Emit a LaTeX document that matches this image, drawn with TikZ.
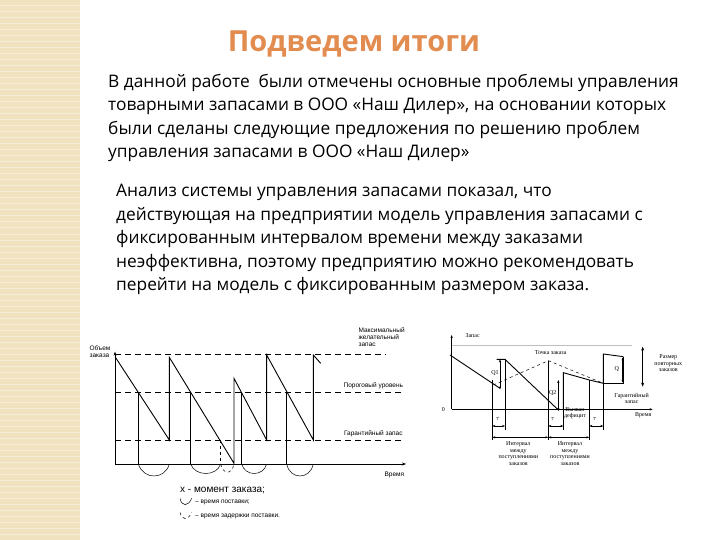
\documentclass[tikz,border=0pt]{standalone}
\usepackage{fontspec}
\setmainfont{Open Sans}
\newfontfamily\arialf{Liberation Sans}
\newfontfamily\timesf{Liberation Serif}
\usetikzlibrary{arrows.meta}
\definecolor{beige}{RGB}{240,226,190}
\definecolor{ttl}{RGB}{226,140,80}
\tikzset{
 body/.style={anchor=north west,align=left,font=\fontsize{17.3}{23.5}\selectfont,inner sep=0},
 thin/.style={line width=0.5pt},
 bold/.style={line width=0.9pt},
 dsh/.style={line width=0.6pt,dash pattern=on 6pt off 4pt},
 lab/.style={font=\arialf\fontsize{6.5}{7}\selectfont,align=left,inner sep=0},
 rl/.style={font=\timesf\fontsize{6}{6.5}\selectfont,align=center,inner sep=0},
 da/.style={thin,{Stealth[length=3pt]}-{Stealth[length=3pt]}}
}
\begin{document}
\begin{tikzpicture}[x=1pt,y=-1pt]
\useasboundingbox (0,0) rectangle (720,540);
\fill[white] (0,0) rectangle (720,540);
\fill[beige] (0,0) rectangle (80,540);
\foreach \i in {0,6,...,540}{\draw[white!40!beige,line width=1pt] (0,\i) -- (80,\i);}
\node[font=\bfseries\fontsize{29}{32}\selectfont,text=ttl] (title) at (354,44) {Подведем итоги};
\node[body] (p1) at (108,74) {В данной работе \ были отмечены основные проблемы управления\\товарными запасами в ООО «Наш Дилер», на основании которых\\были сделаны следующие предложения по решению проблем\\управления запасами в ООО «Наш Дилер»};
\node[body] (p2) at (116,184) {Анализ системы управления запасами показал, что\\действующая на предприятии модель управления запасами с\\фиксированным интервалом времени между заказами\\неэффективна, поэтому предприятию можно рекомендовать\\перейти на модель с фиксированным размером заказа.};
% left chart
\begin{scope}[shift={(80,320)},x=1pt/3,y=-1pt/3]
\draw[thin,-{Stealth[length=4pt]}] (105,432) -- (105,95);
\draw[thin,-{Stealth[length=4pt]}] (105,432) -- (978,432);
\draw[dsh] (105,103) -- (918,103);
\draw[dsh] (105,217) -- (975,217);
\draw[dsh] (105,360) -- (975,360);
\draw[bold] (105,110) -- (268,360) -- (268,112) -- (462,430) -- (462,175) -- (560,360) -- (560,105) -- (700,360) -- (700,105) -- (722,130);
\foreach \x/\t in {175/217,332/217,485/217,620/217}{\draw[thin] (\x,\t) -- (\x,432);}
\draw[thin,dashed] (422,360) -- (422,432);
\draw[thin] (175,432) .. controls (190,480) and (255,480) .. (268,432);
\draw[thin] (332,432) .. controls (345,470) and (410,470) .. (422,432);
\draw[thin,dashed] (422,432) .. controls (430,465) and (455,465) .. (462,432);
\draw[thin] (485,432) .. controls (495,470) and (550,470) .. (560,432);
\draw[thin] (620,432) .. controls (630,480) and (690,480) .. (700,432);
\node[lab] (ly) at (60,95) {Объем\\заказа};
\node[lab] (lmax) at (905,50) {Максимальный\\желательный\\запас};
\node[lab] (lthr) at (880,197) {Пороговый уровень};
\node[lab] (lgar) at (880,340) {Гарантийный запас};
\node[lab] (lt) at (943,465) {Время};
\node[font=\arialf\fontsize{10}{11}\selectfont,anchor=west] (lg1) at (290,510) {х - момент заказа;};
\draw[thin] (300,535) .. controls (305,560) and (325,560) .. (335,535);
\node[lab,anchor=west] (lg2) at (345,548) {– время поставки;};
\draw[thin,dashed] (300,577) .. controls (305,602) and (325,602) .. (335,577);
\node[lab,anchor=west] (lg3) at (345,590) {– время задержки поставки.};
\end{scope}
% right chart
\begin{scope}[shift={(430,330)},x=1pt/3,y=-1pt/3]
\draw[thin,-{Stealth[length=3pt]}] (65,238) -- (65,15);
\draw[thin,-{Stealth[length=3pt]}] (65,238) -- (668,238);
\draw[thin,gray!50] (65,45) -- (605,45);
\node[rl] (r0) at (40,238) {0};
\node[rl] (rz) at (128,18) {Запас};
\draw[bold] (60,75) -- (210,175);
\draw[bold] (200,88) -- (225,88) -- (385,240);
\draw[bold] (400,240) -- (400,128) -- (478,150) -- (520,160) -- (520,72) -- (580,80);
\draw[thin,dashed] (190,165) -- (355,92) -- (520,160);
\draw[thin] (520,160) -- (580,160) -- (580,80);
\foreach \x/\a/\b in {187/150/330,225/90/300,355/92/330,400/240/300,478/150/330,520/160/300}{\draw[thin] (\x,\a) -- (\x,\b);}
\draw[da] (210,88) -- (210,178);
\draw[da] (385,150) -- (385,243);
\draw[da] (578,82) -- (578,158);
\draw[thin,{Stealth[length=4pt]}-{Stealth[length=4pt]}] (638,50) -- (638,170);
\draw[da] (187,288) -- (225,288);
\draw[da] (355,288) -- (400,288);
\draw[da] (478,288) -- (520,288);
\draw[da] (187,322) -- (355,322);
\draw[da] (355,322) -- (478,322);
\node[rl] (tk) at (362,68) {Точка заказа};
\node[rl] (q1) at (195,128) {Q1};
\node[rl] (q2) at (368,190) {Q2};
\node[rl] (q) at (560,118) {Q};
\node[rl] (t1) at (203,268) {$\tau$};
\node[rl] (t2) at (368,268) {$\tau$};
\node[rl] (t3) at (494,268) {$\tau$};
\node[rl] (rs) at (715,100) {Размер\\повторных\\заказов};
\node[rl] (gz) at (605,205) {Гарантийный\\запас};
\node[rl] (vr) at (640,255) {Время};
\node[rl] (df) at (435,250) {Вызван\\дефицит};
\node[rl] (i1) at (265,370) {Интервал\\между\\поступлениями\\заказов};
\node[rl] (i2) at (420,370) {Интервал\\между\\поступлениями\\заказов};
\end{scope}
\end{tikzpicture}
\end{document}
